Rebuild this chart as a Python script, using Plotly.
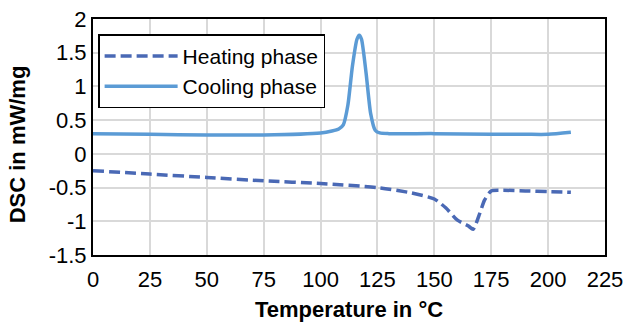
import plotly.graph_objects as go

# Heating phase (dashed)
heat_x = [0, 25, 50, 75, 100, 125, 140, 150, 155, 160, 165, 167, 170, 172, 175, 180, 190, 200, 210]
heat_y = [-0.25, -0.30, -0.35, -0.40, -0.44, -0.50, -0.58, -0.67, -0.80, -0.98, -1.07, -1.12, -0.88, -0.69, -0.55, -0.54, -0.55, -0.56, -0.57]

# Cooling phase (solid)
cool_x = [0, 25, 50, 75, 100, 105, 108, 110, 112, 114, 116, 117, 118, 120, 122, 124, 126, 130, 150, 175, 190, 200, 210]
cool_y = [0.30, 0.29, 0.28, 0.28, 0.31, 0.34, 0.37, 0.43, 0.72, 1.30, 1.70, 1.76, 1.70, 1.20, 0.60, 0.35, 0.31, 0.30, 0.30, 0.29, 0.29, 0.29, 0.32]

x_ticks = [0, 25, 50, 75, 100, 125, 150, 175, 200, 225]
y_ticks = [-1.5, -1, -0.5, 0, 0.5, 1, 1.5, 2]

FONT = "Arial, Liberation Sans, sans-serif"

fig = go.Figure()
fig.add_trace(go.Scatter(x=heat_x, y=heat_y, mode="lines", name="Heating phase",
                         line=dict(color="#4A69B5", width=3.5, dash="11px,5px", shape="spline", smoothing=0.6)))
fig.add_trace(go.Scatter(x=cool_x, y=cool_y, mode="lines", name="Cooling phase",
                         line=dict(color="#5B9BD5", width=3.5, shape="spline", smoothing=0.6)))

fig.update_layout(
    width=625, height=323,
    margin=dict(l=93, r=20, t=19, b=68),
    paper_bgcolor="white", plot_bgcolor="white",
    font=dict(family=FONT, size=22, color="black"),
    legend=dict(x=0.01, y=0.935, xanchor="left", yanchor="top",
                bordercolor="black", borderwidth=1.5, bgcolor="white",
                font=dict(size=21), tracegroupgap=0, itemwidth=73),
    showlegend=True,
    annotations=[
        dict(text="<b>Temperature in °C</b>", xref="paper", yref="paper",
             x=0.5, y=-0.23, xanchor="center", yanchor="middle", showarrow=False,
             font=dict(family=FONT, size=22, color="black")),
        dict(text="<b>DSC in mW/mg</b>", xref="paper", yref="paper",
             x=-0.148, y=0.47, xanchor="center", yanchor="middle", showarrow=False,
             textangle=-90, font=dict(family=FONT, size=22, color="black")),
    ],
)
fig.update_xaxes(range=[0, 225], tickvals=x_ticks, ticktext=[str(v) for v in x_ticks],
                 showgrid=True, gridcolor="#D9D9D9", gridwidth=1.5,
                 showline=True, linecolor="black", linewidth=2, mirror=True,
                 ticks="", zeroline=False, automargin=False, ticklabelstandoff=4)
fig.update_yaxes(range=[-1.5, 2], tickvals=y_ticks, ticktext=[("%g" % v) for v in y_ticks],
                 showgrid=True, gridcolor="#D9D9D9", gridwidth=1.5,
                 showline=True, linecolor="black", linewidth=2, mirror=True,
                 ticks="", zeroline=False, automargin=False)

fig.write_html("out.html")
